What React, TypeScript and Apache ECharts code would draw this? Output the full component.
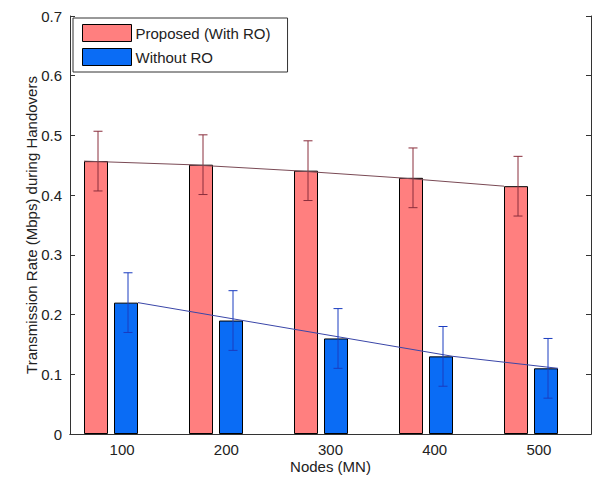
import React, { useEffect, useRef } from "react";
import * as echarts from "echarts";

const categories = ["100", "200", "300", "400", "500"];
const proposedValues = [0.457, 0.451, 0.441, 0.429, 0.415];
const proposedErrors = [0.05, 0.05, 0.05, 0.05, 0.05];
const withoutValues = [0.22, 0.19, 0.16, 0.13, 0.11];
const withoutErrors = [0.05, 0.05, 0.05, 0.05, 0.05];
const yTicks = { min: 0, max: 0.7, interval: 0.1 };

const FONT = "Liberation Sans";
const TEXT = "#222";
const AXIS = "#333";

function makeRenderer(
  values: number[],
  errs: number[],
  barOffset: number,
  lineOffset: number,
  errColor: string,
  lineColor: string
) {
  return (params: any, api: any) => {
    const i = params.dataIndex;
    const v = values[i];
    const c = api.coord([i, v]);
    const x = c[0] + barOffset + 2;
    const top = api.coord([i, v + errs[i]])[1];
    const bot = api.coord([i, v - errs[i]])[1];
    const cap = 4.5;
    const es = { stroke: errColor, lineWidth: 1 };
    const children: any[] = [
      { type: "line", shape: { x1: x, y1: top, x2: x, y2: bot }, style: es },
      { type: "line", shape: { x1: x - cap, y1: top, x2: x + cap, y2: top }, style: es },
      { type: "line", shape: { x1: x - cap, y1: bot, x2: x + cap, y2: bot }, style: es },
    ];
    if (i < values.length - 1) {
      const n = api.coord([i + 1, values[i + 1]]);
      children.push({
        type: "line",
        shape: { x1: c[0] + lineOffset, y1: c[1], x2: n[0] + lineOffset, y2: n[1] },
        style: { stroke: lineColor, lineWidth: 1 },
      });
    }
    return { type: "group", children };
  };
}

export default function App() {
  const ref = useRef<HTMLDivElement>(null);
  useEffect(() => {
    if (!ref.current) return;
    const chart = echarts.init(ref.current, null, { renderer: "svg" });
    const gridTop = 16;
    const gridBottom = 43;
    chart.setOption({
      animation: false,
      backgroundColor: "#fff",
      textStyle: { fontFamily: FONT },
      grid: [
        { left: 70, width: 521, top: gridTop, bottom: gridBottom, outerBoundsMode: "none", containLabel: false },
        { left: 58.5, width: 525, top: gridTop, bottom: gridBottom, outerBoundsMode: "none", containLabel: false },
      ],
      legend: {
        orient: "vertical",
        left: 73,
        top: 18,
        padding: [6, 17, 6, 9],
        itemGap: 6,
        itemWidth: 49,
        itemHeight: 17,
        icon: "rect",
        backgroundColor: "#fff",
        borderColor: AXIS,
        borderWidth: 1,
        borderRadius: 0,
        itemStyle: { borderColor: "#000", borderWidth: 1 },
        textStyle: { fontFamily: FONT, fontSize: 15, color: TEXT, padding: [0, 0, 0, -1] },
        data: ["Proposed (With RO)", "Without RO"],
        z: 10,
      },
      xAxis: [
        {
          type: "category",
          gridIndex: 0,
          data: categories,
          name: "Nodes (MN)",
          nameLocation: "middle",
          nameGap: 25,
          nameMoveOverlap: false,
          nameTextStyle: { fontFamily: FONT, fontSize: 15, color: TEXT },
          axisLine: { lineStyle: { color: AXIS, width: 1 } },
          axisTick: { inside: true, length: 5, alignWithLabel: true, lineStyle: { color: AXIS } },
          axisLabel: { fontFamily: FONT, fontSize: 15, color: TEXT, margin: 8 },
          splitLine: { show: false },
        },
        {
          type: "category",
          gridIndex: 0,
          position: "top",
          data: categories,
          axisLine: { lineStyle: { color: AXIS, width: 1 } },
          axisTick: { inside: true, length: 5, alignWithLabel: true, lineStyle: { color: AXIS } },
          axisLabel: { show: false },
        },
        {
          type: "category",
          gridIndex: 1,
          data: categories,
          show: false,
        },
      ],
      yAxis: [
        {
          type: "value",
          gridIndex: 0,
          min: yTicks.min,
          max: yTicks.max,
          interval: yTicks.interval,
          name: "Transmission Rate (Mbps) during Handovers",
          nameLocation: "middle",
          nameGap: 31,
          nameMoveOverlap: false,
          nameTextStyle: { fontFamily: FONT, fontSize: 15, color: TEXT },
          axisLine: { show: true, lineStyle: { color: AXIS, width: 1 } },
          axisTick: { show: true, inside: true, length: 5, lineStyle: { color: AXIS } },
          axisLabel: { fontFamily: FONT, fontSize: 15, color: TEXT, margin: 8 },
          splitLine: { show: false },
        },
        {
          type: "value",
          gridIndex: 0,
          position: "right",
          min: yTicks.min,
          max: yTicks.max,
          interval: yTicks.interval,
          axisLine: { show: true, lineStyle: { color: AXIS, width: 1 } },
          axisTick: { show: true, inside: true, length: 5, lineStyle: { color: AXIS } },
          axisLabel: { show: false },
          splitLine: { show: false },
        },
        {
          type: "value",
          gridIndex: 1,
          min: yTicks.min,
          max: yTicks.max,
          show: false,
        },
      ],
      series: [
        {
          name: "Proposed (With RO)",
          type: "bar",
          xAxisIndex: 2,
          yAxisIndex: 2,
          data: proposedValues,
          barWidth: 24,
          barGap: "25%",
          itemStyle: { color: "#ff7f7f", borderColor: "#000", borderWidth: 1 },
        },
        {
          name: "Without RO",
          type: "bar",
          xAxisIndex: 2,
          yAxisIndex: 2,
          data: withoutValues,
          barWidth: 24,
          barGap: "25%",
          itemStyle: { color: "#0a6cf5", borderColor: "#000", borderWidth: 1 },
        },
        {
          type: "custom",
          xAxisIndex: 2,
          yAxisIndex: 2,
          z: 5,
          data: proposedValues.map((v, i) => [i, v]),
          encode: { x: 0, y: 1 },
          renderItem: makeRenderer(proposedValues, proposedErrors, -15, -27, "#8a2e3c", "#7a4a55"),
        },
        {
          type: "custom",
          xAxisIndex: 2,
          yAxisIndex: 2,
          z: 5,
          data: withoutValues.map((v, i) => [i, v]),
          encode: { x: 0, y: 1 },
          renderItem: makeRenderer(withoutValues, withoutErrors, 15, 27, "#1a3cc0", "#3a46a8"),
        },
      ],
    });
    return () => chart.dispose();
  }, []);
  return (
    <div
      ref={ref}
      style={{ position: "absolute", left: 0, top: 0, width: 598, height: 477 }}
    />
  );
}
